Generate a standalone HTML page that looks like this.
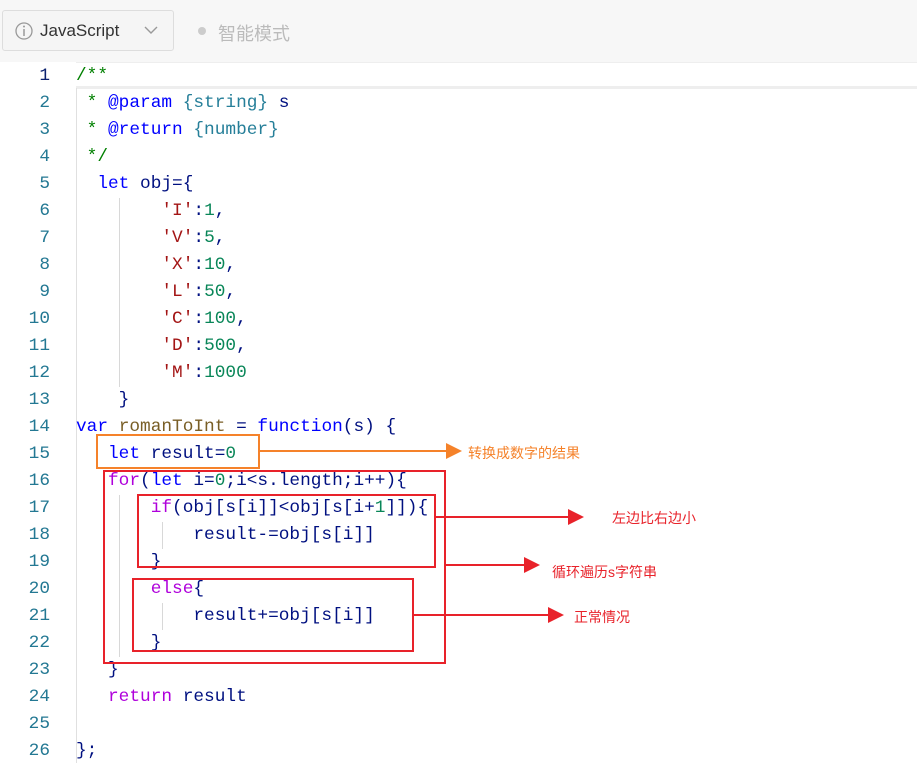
<!DOCTYPE html>
<html><head><meta charset="utf-8"><style>
body{margin:0;width:917px;height:776px;background:#fff;position:relative;overflow:hidden;font-family:"Liberation Sans","Noto Sans CJK SC",sans-serif}
.top{position:absolute;left:0;top:0;width:917px;height:62px;background:#f7f7f7}
.sel{position:absolute;left:2px;top:10px;width:170px;height:39px;border:1px solid #ddd;border-radius:3px;background:#f5f5f5}
.ln{position:absolute;left:0;width:50px;text-align:right;font:17.8px "Liberation Mono",monospace;color:#237893}
.l{position:absolute;left:76px;white-space:pre;font:17.8px "Liberation Mono",monospace;color:#001080;line-height:27px}
.k{color:#0000ff}.p{color:#af00db}.s{color:#a31515}.n{color:#098658}.c{color:#008000}.t{color:#267f99}.f{color:#795e26}
.g{position:absolute;width:1px;background:#d8d8d8}
.box{position:absolute;border:2px solid #e8222a}
.lab{position:absolute;font-size:14px;color:#e8222a}
#c{position:absolute;left:0;top:3px;width:917px;height:776px}
#n{position:absolute;left:0;top:2px;width:60px;height:776px}
</style></head><body>
<div class="top"></div>
<div class="sel"></div>
<svg style="position:absolute;left:14px;top:21px" width="20" height="20"><circle cx="10" cy="10" r="8" fill="none" stroke="#999" stroke-width="1.3"/><line x1="10" y1="8" x2="10" y2="15" stroke="#999" stroke-width="1.5"/><circle cx="10" cy="5.5" r="1" fill="#999"/></svg>
<div style="position:absolute;left:40px;top:21px;font-size:17px;color:#333">JavaScript</div>
<svg style="position:absolute;left:144px;top:25px" width="14" height="10"><polyline points="1,2 7,8 13,2" fill="none" stroke="#999" stroke-width="1.4"/></svg>
<div style="position:absolute;left:198px;top:27px;width:8px;height:8px;border-radius:50%;background:#ccc"></div>
<div style="position:absolute;left:218px;top:20px;font-size:18px;color:#bbb">智能模式</div>
<div style="position:absolute;left:76px;top:62px;width:841px;height:23px;border-top:1px solid #eee;border-bottom:3px solid #eee"></div>
<div class="g" style="left:76px;top:88px;height:675px;background:#e0e0e0"></div>
<div class="g" style="left:119px;top:198px;height:189px"></div>
<div class="g" style="left:119px;top:495px;height:162px"></div>
<div class="g" style="left:162px;top:522px;height:27px"></div>
<div class="g" style="left:162px;top:603px;height:27px"></div>
<div id="n">
<div class="ln" style="top:64px;color:#0b216f">1</div><div class="ln" style="top:91px">2</div><div class="ln" style="top:118px">3</div><div class="ln" style="top:145px">4</div><div class="ln" style="top:172px">5</div><div class="ln" style="top:199px">6</div><div class="ln" style="top:226px">7</div><div class="ln" style="top:253px">8</div><div class="ln" style="top:280px">9</div><div class="ln" style="top:307px">10</div><div class="ln" style="top:334px">11</div><div class="ln" style="top:361px">12</div><div class="ln" style="top:388px">13</div><div class="ln" style="top:415px">14</div><div class="ln" style="top:442px">15</div><div class="ln" style="top:469px">16</div><div class="ln" style="top:496px">17</div><div class="ln" style="top:523px">18</div><div class="ln" style="top:550px">19</div><div class="ln" style="top:577px">20</div><div class="ln" style="top:604px">21</div><div class="ln" style="top:631px">22</div><div class="ln" style="top:658px">23</div><div class="ln" style="top:685px">24</div><div class="ln" style="top:712px">25</div><div class="ln" style="top:739px">26</div>
</div>
<div id="c">
<div class="l" style="top:60px"><span class="c">/**</span></div>
<div class="l" style="top:87px"><span class="c"> * </span><span class="k">@param</span> <span class="t">{string}</span> s</div>
<div class="l" style="top:114px"><span class="c"> * </span><span class="k">@return</span> <span class="t">{number}</span></div>
<div class="l" style="top:141px"><span class="c"> */</span></div>
<div class="l" style="top:168px">  <span class="k">let</span> obj={</div>
<div class="l" style="top:195px">        <span class="s">'I'</span>:<span class="n">1</span>,</div>
<div class="l" style="top:222px">        <span class="s">'V'</span>:<span class="n">5</span>,</div>
<div class="l" style="top:249px">        <span class="s">'X'</span>:<span class="n">10</span>,</div>
<div class="l" style="top:276px">        <span class="s">'L'</span>:<span class="n">50</span>,</div>
<div class="l" style="top:303px">        <span class="s">'C'</span>:<span class="n">100</span>,</div>
<div class="l" style="top:330px">        <span class="s">'D'</span>:<span class="n">500</span>,</div>
<div class="l" style="top:357px">        <span class="s">'M'</span>:<span class="n">1000</span></div>
<div class="l" style="top:384px">    }</div>
<div class="l" style="top:411px"><span class="k">var</span> <span class="f">romanToInt</span> = <span class="k">function</span>(s) {</div>
<div class="l" style="top:438px">   <span class="k">let</span> result=<span class="n">0</span></div>
<div class="l" style="top:465px">   <span class="p">for</span>(<span class="k">let</span> i=<span class="n">0</span>;i&lt;s.length;i++){</div>
<div class="l" style="top:492px">       <span class="p">if</span>(obj[s[i]]&lt;obj[s[i+<span class="n">1</span>]]){</div>
<div class="l" style="top:519px">           result-=obj[s[i]]</div>
<div class="l" style="top:546px">       }</div>
<div class="l" style="top:573px">       <span class="p">else</span>{</div>
<div class="l" style="top:600px">           result+=obj[s[i]]</div>
<div class="l" style="top:627px">       }</div>
<div class="l" style="top:654px">   }</div>
<div class="l" style="top:681px">   <span class="p">return</span> result</div>
<div class="l" style="top:735px">};</div>
</div>
<div class="box" style="left:96px;top:434px;width:160px;height:31px;border-color:#f5822a"></div>
<div class="box" style="left:103px;top:470px;width:339px;height:190px"></div>
<div class="box" style="left:137px;top:494px;width:295px;height:70px"></div>
<div class="box" style="left:132px;top:578px;width:278px;height:70px"></div>
<svg style="position:absolute;left:0;top:0" width="917" height="776">
<defs><marker id="o" markerWidth="8" markerHeight="8" refX="7" refY="4" orient="auto"><path d="M0,0L8,4L0,8z" fill="#f5822a"/></marker>
<marker id="r" markerWidth="8" markerHeight="8" refX="7" refY="4" orient="auto"><path d="M0,0L8,4L0,8z" fill="#e8222a"/></marker></defs>
<line x1="258" y1="451" x2="460" y2="451" stroke="#f5822a" stroke-width="2" marker-end="url(#o)"/>
<line x1="434" y1="517" x2="582" y2="517" stroke="#e8222a" stroke-width="2" marker-end="url(#r)"/>
<line x1="444" y1="565" x2="538" y2="565" stroke="#e8222a" stroke-width="2" marker-end="url(#r)"/>
<line x1="412" y1="615" x2="562" y2="615" stroke="#e8222a" stroke-width="2" marker-end="url(#r)"/>
</svg>
<div class="lab" style="left:468px;top:443px;color:#f5822a">转换成数字的结果</div>
<div class="lab" style="left:612px;top:508px">左边比右边小</div>
<div class="lab" style="left:552px;top:562px">循环遍历s字符串</div>
<div class="lab" style="left:574px;top:607px">正常情况</div>
</body></html>
